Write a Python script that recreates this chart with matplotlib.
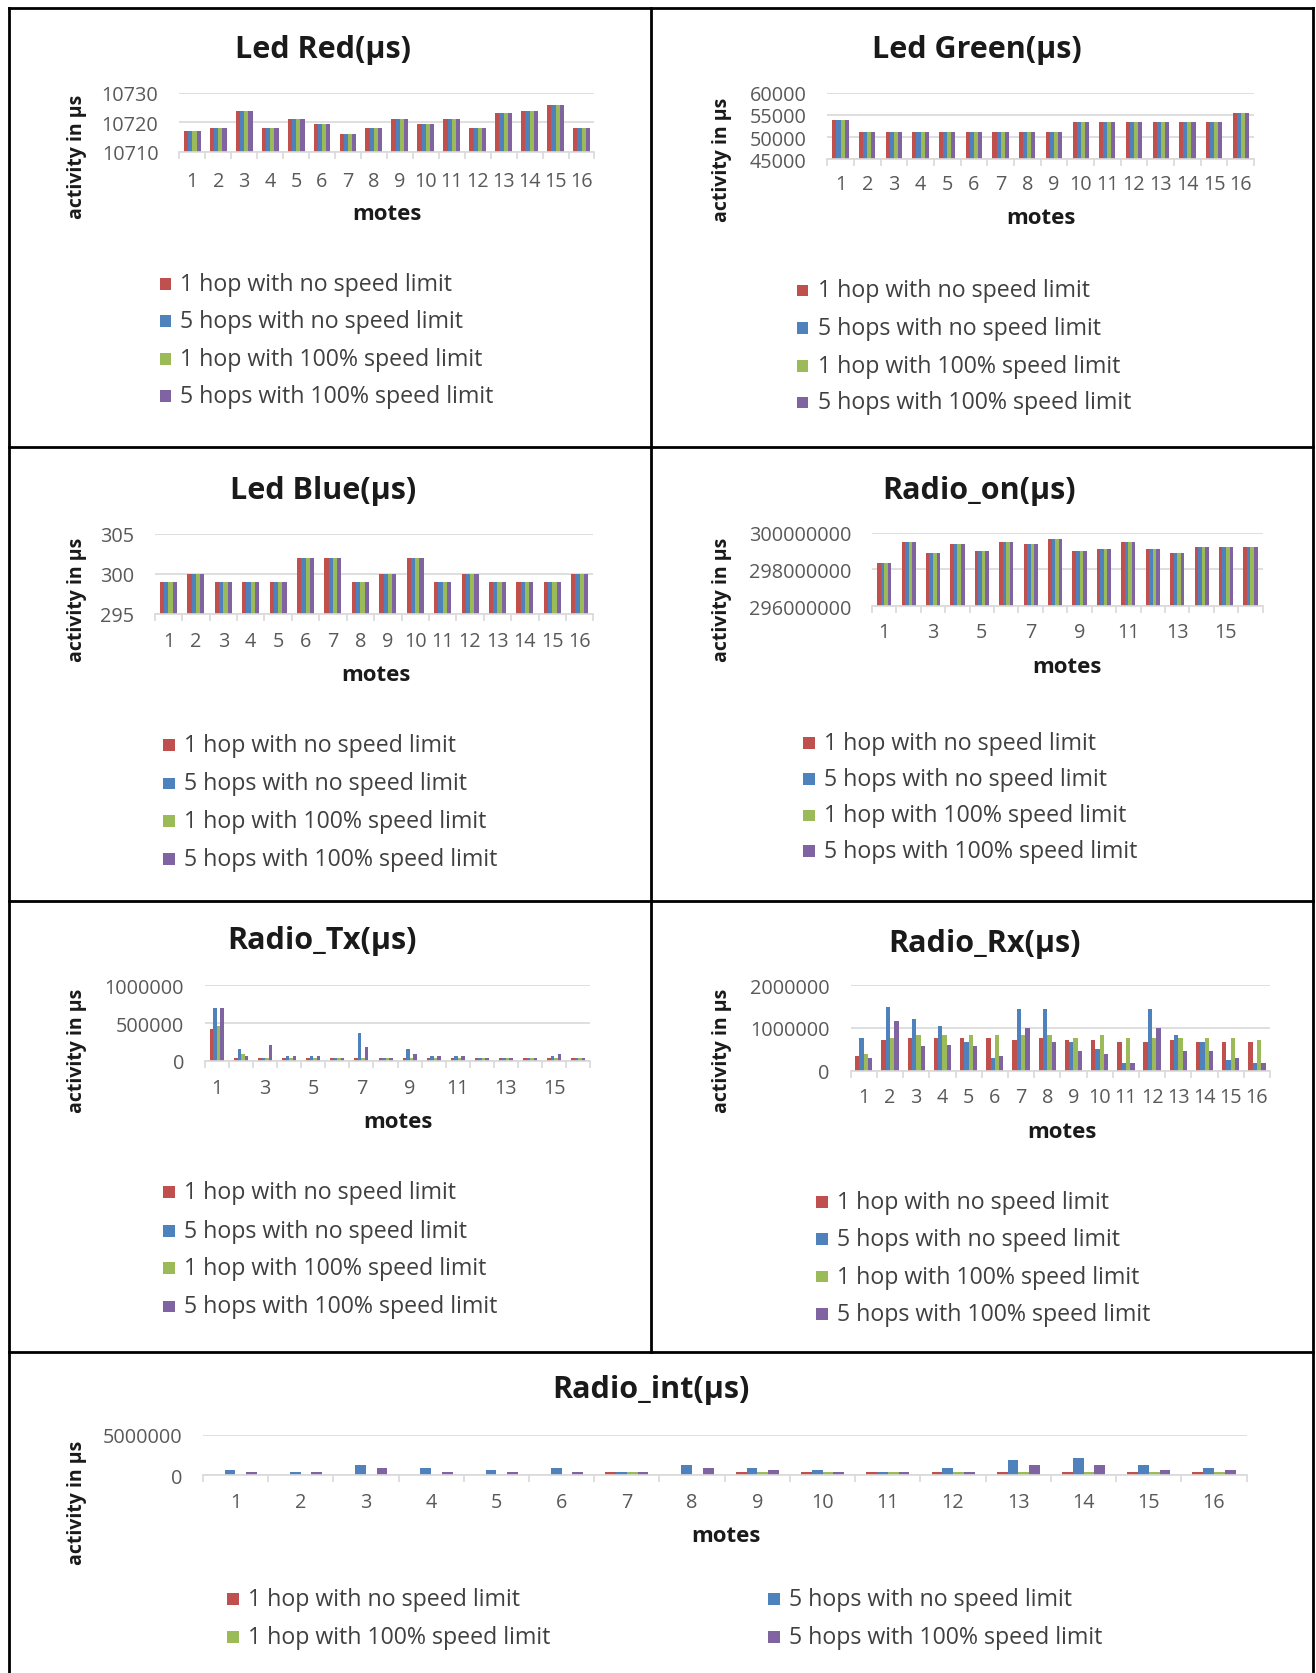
import matplotlib
matplotlib.use('Agg')
import matplotlib.pyplot as plt
from matplotlib.lines import Line2D
from matplotlib.patches import Rectangle
import numpy as np

plt.rcParams['font.family'] = ['Open Sans', 'DejaVu Sans']

W, H = 1316, 1674
S = W / 1233  # layout measured on the shrunk reference

MOTES = list(range(1, 17))
SERIES = ['1 hop with no speed limit', '5 hops with no speed limit',
          '1 hop with 100% speed limit', '5 hops with 100% speed limit']
COLORS = ['#C0504D', '#4F81BD', '#9BBB59', '#8064A2']

# --- data (the four scenarios give the same value for the LEDs / radio on) ---
led_red = [10717, 10718, 10724, 10718, 10721, 10719.5, 10716, 10718,
           10721, 10719.5, 10721, 10718, 10723, 10724, 10726, 10718]
led_green = [53800, 51200, 51200, 51200, 51200, 51200, 51200, 51200,
             51200, 53300, 53300, 53300, 53300, 53300, 53300, 55400]
led_blue = [299, 300, 299, 299, 299, 302, 302, 299,
            300, 302, 299, 300, 299, 299, 299, 300]
radio_on = [298360000, 299500000, 298870000, 299370000, 299000000, 299500000,
            299370000, 299630000, 299000000, 299130000, 299500000, 299130000,
            298870000, 299240000, 299240000, 299240000]

tx_1hop = [427000, 44000, 44000, 44000, 44000, 44000, 44000, 44000,
           44000, 44000, 44000, 44000, 44000, 44000, 44000, 44000]
tx_5hops = [700000, 160000, 44000, 67000, 67000, 44000, 369000, 44000,
            160000, 67000, 67000, 44000, 44000, 44000, 67000, 44000]
tx_1hop_lim = [458000, 93000, 44000, 44000, 44000, 44000, 44000, 44000,
               44000, 44000, 44000, 44000, 44000, 44000, 44000, 44000]
tx_5hops_lim = [700000, 67000, 213000, 67000, 67000, 44000, 191000, 44000,
                93000, 67000, 67000, 44000, 44000, 44000, 93000, 44000]

rx_1hop = [350000, 720000, 770000, 770000, 770000, 770000, 720000, 770000,
           720000, 720000, 670000, 670000, 720000, 670000, 670000, 670000]
rx_5hops = [770000, 1480000, 1200000, 1050000, 680000, 300000, 1440000, 1440000,
            670000, 510000, 180000, 1440000, 830000, 670000, 240000, 180000]
rx_1hop_lim = [400000, 770000, 830000, 830000, 830000, 830000, 830000, 830000,
               770000, 830000, 770000, 770000, 770000, 770000, 770000, 720000]
rx_5hops_lim = [300000, 1150000, 570000, 610000, 570000, 350000, 1000000, 670000,
                460000, 400000, 180000, 1000000, 460000, 460000, 300000, 180000]

int_1hop = [0, 0, 0, 0, 0, 0, 350000, 0,
            350000, 350000, 350000, 350000, 350000, 350000, 350000, 350000]
int_5hops = [650000, 350000, 1200000, 900000, 650000, 900000, 350000, 1200000,
             900000, 650000, 350000, 900000, 1800000, 2100000, 1200000, 900000]
int_1hop_lim = [0, 0, 0, 0, 0, 0, 350000, 0,
                350000, 350000, 350000, 350000, 350000, 350000, 350000, 350000]
int_5hops_lim = [350000, 350000, 900000, 350000, 350000, 350000, 350000, 900000,
                 650000, 350000, 350000, 350000, 1200000, 1200000, 650000, 650000]

TICK_FS = 14.3
TICK_COLOR = '#595959'
GRID_COLOR = '#D9D9D9'
TEXT_DARK = '#1a1a1a'


def fx(x):
    return x * S / W


def fy(y):
    return 1 - y * S / H


def panel(fig, title, series, box, yticks, group, title_xy, tick_y,
          xlabel_xy, ylabel_xy, xstep=1):
    x0, y0, x1, y1 = box
    ax = fig.add_axes([fx(x0), fy(y1), fx(x1) - fx(x0), fy(y0) - fy(y1)])
    x = np.array(MOTES)
    bw = group / 4
    for k, vals in enumerate(series):
        ax.bar(x - group / 2 + bw * (k + 0.5), vals, width=bw,
               color=COLORS[k], linewidth=0, zorder=2)
    ax.set_xlim(0.5, 16.5)
    ax.set_ylim(yticks[0], yticks[-1])
    ax.set_yticks(yticks)
    ax.set_yticklabels([str(v) for v in yticks])
    ax.grid(axis='y', color=GRID_COLOR, linewidth=1.2, zorder=0)
    for s in ['left', 'right', 'top']:
        ax.spines[s].set_visible(False)
    ax.spines['bottom'].set_color(GRID_COLOR)
    ax.spines['bottom'].set_linewidth(1.2)
    ax.set_xticks(x[::xstep])
    ax.set_xticklabels([str(m) for m in MOTES[::xstep]])
    ax.set_xticks(np.arange(0.5, 17, 1), minor=True)
    ax.tick_params(axis='x', which='minor', length=5, color=GRID_COLOR, width=1.2)
    pad_px = (tick_y - y1) * S - TICK_FS / 72 * 100 / 2
    ax.tick_params(axis='x', which='major', length=0, pad=pad_px * 0.72,
                   labelsize=TICK_FS, labelcolor=TICK_COLOR)
    ax.tick_params(axis='y', length=0, pad=15, labelsize=TICK_FS,
                   labelcolor=TICK_COLOR)
    fig.text(fx(title_xy[0]), fy(title_xy[1] + 2), title, ha='center',
             va='center', fontsize=22, fontweight='bold', color=TEXT_DARK)
    fig.text(fx(xlabel_xy[0]), fy(xlabel_xy[1]), 'motes', ha='center',
             va='center', fontsize=16, fontweight='bold', color=TEXT_DARK)
    fig.text(fx(ylabel_xy[0]), fy(ylabel_xy[1]), 'activity in µs', ha='center',
             va='center', rotation=90, fontsize=14, fontweight='bold',
             color=TEXT_DARK)
    return ax


def legend(fig, positions):
    for k, (lx, ly) in enumerate(positions):
        sq = 11 * S
        fig.add_artist(Rectangle((fx(lx) - sq / 2 / W, fy(ly) - sq / 2 / H),
                                 sq / W, sq / H, transform=fig.transFigure,
                                 facecolor=COLORS[k], edgecolor='none'))
        fig.text(fx(lx + 14), fy(ly), SERIES[k], ha='left', va='center',
                 fontsize=16.7, color='#404040')


fig = plt.figure(figsize=(W / 100, H / 100), dpi=100)

panel(fig, 'Led Red(µs)', [led_red] * 4, (168, 88, 557, 143),
      [10710, 10720, 10730], 0.65, (303, 45), 170, (363, 201), (72, 147))
legend(fig, [(155, 267), (155, 302), (155, 337), (155, 372)])

panel(fig, 'Led Green(µs)', [led_green] * 4, (775, 88, 1175, 150),
      [45000, 50000, 55000, 60000], 0.61, (915, 45), 173, (975, 205), (676, 150))
legend(fig, [(752, 273), (752, 308), (752, 344), (752, 378)])

panel(fig, 'Led Blue(µs)', [led_blue] * 4, (145, 501, 556, 576),
      [295, 300, 305], 0.62, (303, 458), 601, (352, 633), (72, 562))
legend(fig, [(158, 699), (158, 735), (158, 770), (158, 806)])

panel(fig, 'Radio_on(µs)', [radio_on] * 4, (817, 500, 1183, 569),
      [296000000, 298000000, 300000000], 0.58, (917, 458), 593, (1000, 625),
      (676, 562), xstep=2)
legend(fig, [(758, 697), (758, 731), (758, 765), (758, 798)])

panel(fig, 'Radio_Tx(µs)', [tx_1hop, tx_5hops, tx_1hop_lim, tx_5hops_lim],
      (192, 924, 553, 995), [0, 500000, 1000000], 0.58, (302, 880), 1020,
      (373, 1052), (72, 985), xstep=2)
legend(fig, [(158, 1118), (158, 1154), (158, 1189), (158, 1225)])

panel(fig, 'Radio_Rx(µs)', [rx_1hop, rx_5hops, rx_1hop_lim, rx_5hops_lim],
      (797, 924, 1190, 1004), [0, 1000000, 2000000], 0.66, (922, 882), 1029,
      (995, 1061), (676, 985))
legend(fig, [(770, 1127), (770, 1162), (770, 1197), (770, 1232)])

panel(fig, 'Radio_int(µs)', [int_1hop, int_5hops, int_1hop_lim, int_5hops_lim],
      (190, 1345, 1168, 1383), [0, 5000000], 0.66, (610, 1300), 1408,
      (680, 1440), (72, 1408))
legend(fig, [(218, 1499), (725, 1499), (218, 1535), (725, 1535)])

# panel borders
for xa, ya, xb, yb in [(8, 8, 1230, 8), (8, 420, 1230, 420), (8, 845, 1230, 845),
                       (8, 1268, 1230, 1268), (8, 8, 8, 1568),
                       (1230, 8, 1230, 1568), (610, 8, 610, 1268)]:
    fig.add_artist(Line2D([fx(xa), fx(xb)], [fy(ya), fy(yb)],
                          transform=fig.transFigure, color='black', linewidth=2))

fig.savefig('out.png', dpi=100)
